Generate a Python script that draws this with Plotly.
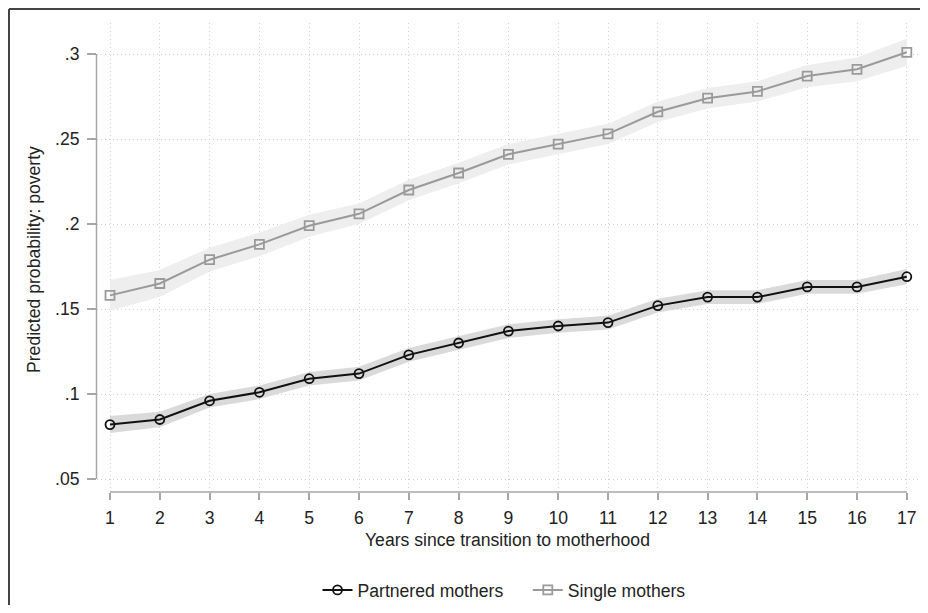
import plotly.graph_objects as go

years = list(range(1, 18))
partnered = [0.082, 0.085, 0.096, 0.101, 0.109, 0.112, 0.123, 0.130, 0.137, 0.140,
             0.142, 0.152, 0.157, 0.157, 0.163, 0.163, 0.169]
partnered_ci = [0.005, 0.0045, 0.004, 0.004, 0.004, 0.004, 0.004, 0.004, 0.004, 0.004,
                0.004, 0.004, 0.004, 0.004, 0.004, 0.004, 0.0045]
single = [0.158, 0.165, 0.179, 0.188, 0.199, 0.206, 0.220, 0.230, 0.241, 0.247,
          0.253, 0.266, 0.274, 0.278, 0.287, 0.291, 0.301]
single_ci = [0.009, 0.008, 0.007, 0.007, 0.0065, 0.006, 0.006, 0.006, 0.006, 0.006,
             0.006, 0.006, 0.006, 0.006, 0.0065, 0.007, 0.008]
y_ticks = [0.05, 0.10, 0.15, 0.20, 0.25, 0.30]
y_labels = [".05", ".1", ".15", ".2", ".25", ".3"]
series_names = ["Partnered mothers", "Single mothers"]

FONT = "Liberation Sans, Arial, sans-serif"
FS = 17.6
TXT = "#222222"
AX = "#a6a6a6"
GRID = "#cfcfcf"

# page has an 8px body margin on every side; keep the figure inside the window
OFF = 8
W, H = 928 - 2 * OFF, 613 - 2 * OFF
L, T = 97 - OFF, 23 - OFF
R = 0
B = H - (492 - OFF)
pw, ph = W - L - R, H - T - B


def px(x):
    return (x - OFF - L) / pw


def py(y):
    return (H - B - (y - OFF)) / ph


fig = go.Figure()

# CI bands
for vals, ci, col in [(single, single_ci, "rgba(238,238,238,1)"),
                      (partnered, partnered_ci, "rgba(218,218,218,1)")]:
    lo = [v - c for v, c in zip(vals, ci)]
    hi = [v + c for v, c in zip(vals, ci)]
    fig.add_trace(go.Scatter(x=years, y=lo, mode="lines", line=dict(width=0),
                             showlegend=False, hoverinfo="skip"))
    fig.add_trace(go.Scatter(x=years, y=hi, mode="lines", line=dict(width=0),
                             fill="tonexty", fillcolor=col,
                             showlegend=False, hoverinfo="skip"))

fig.add_trace(go.Scatter(
    x=years, y=partnered, mode="lines+markers",
    name=series_names[0] + "\u00a0\u00a0\u00a0\u00a0",
    line=dict(color="#111111", width=2),
    marker=dict(symbol="circle-open", size=9, color="#111111", line=dict(width=1.8)),
))
fig.add_trace(go.Scatter(
    x=years, y=single, mode="lines+markers", name=series_names[1],
    line=dict(color="#9a9a9a", width=2),
    marker=dict(symbol="square-open", size=9, color="#9a9a9a", line=dict(width=1.8)),
))

ymin = 0.05 - 13 / 1700
ymax = 0.30 + 31 / 1700
xmin = 1 - 13 / 49.8
xmax = xmin + pw / 49.8

fig.update_layout(
    width=W, height=H,
    margin=dict(l=L, r=R, t=T, b=B, autoexpand=False),
    paper_bgcolor="white", plot_bgcolor="white",
    font=dict(family=FONT, size=FS, color=TXT),
    showlegend=True,
    legend=dict(orientation="h", traceorder="normal", x=px(504), xanchor="center",
                y=py(590), yanchor="middle",
                font=dict(size=FS, color=TXT), itemwidth=30, tracegroupgap=0,
                bgcolor="rgba(0,0,0,0)"),
    xaxis=dict(range=[xmin, xmax], tickvals=years, ticktext=[str(y) for y in years],
               showgrid=True, gridcolor=GRID, griddash="1px,3px", gridwidth=1,
               zeroline=False, showline=False, ticks="outside", ticklen=7,
               tickcolor=AX, tickwidth=1.5, ticklabelstandoff=3,
               tickfont=dict(size=FS, color=TXT)),
    yaxis=dict(range=[ymin, ymax], tickvals=y_ticks, ticktext=y_labels,
               showgrid=True, gridcolor=GRID, griddash="1px,3px", gridwidth=1,
               zeroline=False, showline=False, ticks="outside", ticklen=9,
               tickcolor=AX, tickwidth=1.5, ticklabelstandoff=4,
               tickfont=dict(size=FS, color=TXT)),
    shapes=[
        # offset axis lines (Stata style)
        dict(type="line", xref="x", yref="paper", x0=1, x1=17, y0=0, y1=0,
             line=dict(color=AX, width=1.5)),
        dict(type="line", xref="paper", yref="y", x0=px(96.5), x1=px(96.5), y0=0.05, y1=0.30,
             line=dict(color=AX, width=1.5)),
        # outer frame (left and top)
        dict(type="line", xref="paper", yref="paper", x0=px(9), x1=px(9), y0=py(9), y1=py(H + OFF),
             line=dict(color="#444444", width=2)),
        dict(type="line", xref="paper", yref="paper", x0=px(9), x1=px(920), y0=py(9), y1=py(9),
             line=dict(color="#444444", width=2)),
    ],
    annotations=[
        dict(text="Years since transition to motherhood", xref="paper", yref="paper",
             x=px(507), y=py(540), xanchor="center", yanchor="middle", showarrow=False,
             font=dict(size=FS, color=TXT)),
        dict(text="Predicted probability: poverty", xref="paper", yref="paper",
             x=px(34), y=py(260), xanchor="center", yanchor="middle", showarrow=False,
             textangle=-90, font=dict(size=FS, color=TXT)),
    ],
)

fig.write_html("out.html")
